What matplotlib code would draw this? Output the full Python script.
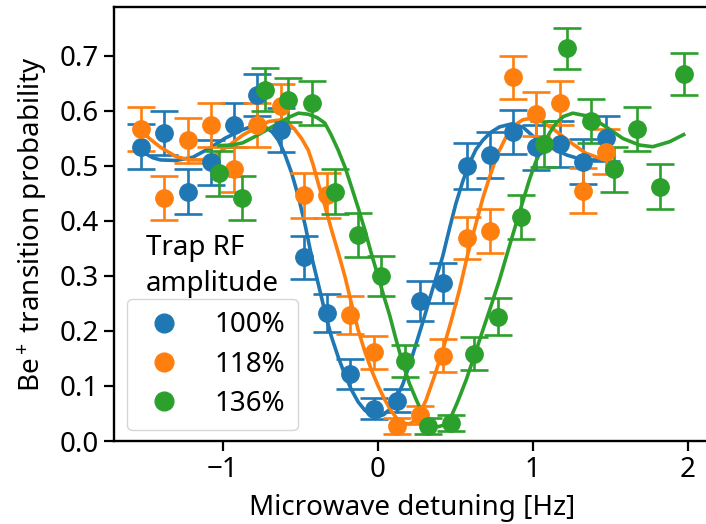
import matplotlib
matplotlib.use("Agg")
import matplotlib.pyplot as plt
from matplotlib.lines import Line2D

plt.rcParams['font.family'] = ['Noto Sans', 'DejaVu Sans']
plt.rcParams['mathtext.fontset'] = 'custom'
plt.rcParams['mathtext.rm'] = 'Noto Sans'
plt.rcParams['mathtext.it'] = 'Noto Sans:italic'
plt.rcParams['mathtext.bf'] = 'Noto Sans:bold'

# ---- data ----
labels = ["100%", "118%", "136%"]
colors = ["#1f77b4", "#ff7f0e", "#2ca02c"]

x_100 = [-1.525, -1.375, -1.225, -1.075, -0.925, -0.775, -0.625, -0.475, -0.325, -0.175, -0.025,
         0.125, 0.275, 0.425, 0.575, 0.725, 0.875, 1.025, 1.175, 1.325, 1.475]
y_100 = [0.535, 0.560, 0.453, 0.507, 0.575, 0.629, 0.566, 0.334, 0.233, 0.122, 0.059,
         0.073, 0.255, 0.287, 0.500, 0.520, 0.562, 0.534, 0.540, 0.508, 0.550]
e_100 = [0.041, 0.040, 0.041, 0.041, 0.040, 0.039, 0.040, 0.039, 0.035, 0.027, 0.019,
         0.021, 0.036, 0.037, 0.041, 0.041, 0.040, 0.041, 0.041, 0.041, 0.041]

x_118 = [-1.525, -1.375, -1.225, -1.075, -0.925, -0.775, -0.625, -0.475, -0.325, -0.175, -0.025,
         0.125, 0.275, 0.425, 0.575, 0.725, 0.875, 1.025, 1.175, 1.325, 1.475]
y_118 = [0.567, 0.441, 0.547, 0.575, 0.494, 0.575, 0.609, 0.447, 0.447, 0.229, 0.161,
         0.027, 0.047, 0.155, 0.369, 0.381, 0.661, 0.595, 0.615, 0.455, 0.526]
e_118 = [0.040, 0.040, 0.041, 0.040, 0.041, 0.040, 0.040, 0.041, 0.041, 0.034, 0.030,
         0.014, 0.017, 0.030, 0.039, 0.040, 0.039, 0.040, 0.040, 0.041, 0.041]

x_136 = [-1.025, -0.875, -0.725, -0.575, -0.425, -0.275, -0.125, 0.025, 0.175, 0.325, 0.475,
         0.625, 0.775, 0.925, 1.075, 1.225, 1.375, 1.525, 1.675, 1.825, 1.975]
y_136 = [0.487, 0.441, 0.639, 0.620, 0.615, 0.453, 0.375, 0.300, 0.146, 0.027, 0.033,
         0.159, 0.226, 0.408, 0.540, 0.714, 0.581, 0.494, 0.567, 0.462, 0.667]
e_136 = [0.041, 0.040, 0.039, 0.040, 0.040, 0.041, 0.040, 0.037, 0.029, 0.014, 0.015,
         0.030, 0.034, 0.040, 0.041, 0.037, 0.040, 0.041, 0.040, 0.041, 0.038]

# fitted curves, points
fx_100 = [-1.525, -1.45, -1.40, -1.30, -1.19, -1.08, -0.98, -0.87, -0.80, -0.74, -0.68, -0.64,
          -0.60, -0.555, -0.51, -0.465, -0.425, -0.38, -0.34, -0.30, -0.254, -0.21, -0.168,
          -0.125, -0.082, -0.04, 0.004, 0.04, 0.08, 0.12, 0.163, 0.225, 0.29, 0.355, 0.42,
          0.465, 0.506, 0.55, 0.593, 0.635, 0.68, 0.73, 0.787, 0.873, 0.94, 1.00, 1.11, 1.22,
          1.325, 1.40, 1.475]
fy_100 = [0.527, 0.515, 0.511, 0.510, 0.516, 0.533, 0.551, 0.566, 0.573, 0.574, 0.562, 0.547,
          0.523, 0.488, 0.444, 0.390, 0.335, 0.283, 0.236, 0.192, 0.153, 0.120, 0.093,
          0.071, 0.056, 0.047, 0.044, 0.048, 0.058, 0.077, 0.103, 0.155, 0.214, 0.276, 0.335,
          0.387, 0.432, 0.472, 0.505, 0.530, 0.547, 0.561, 0.571, 0.577, 0.570, 0.555, 0.535,
          0.520, 0.511, 0.511, 0.516]

fx_118 = [-1.525, -1.45, -1.40, -1.30, -1.21, -1.127, -1.04, -0.955, -0.87, -0.78, -0.70,
          -0.62, -0.575, -0.533, -0.49, -0.447, -0.415, -0.383, -0.34, -0.297, -0.253, -0.21,
          -0.168, -0.125, -0.082, -0.039, 0.004, 0.047, 0.09, 0.133, 0.17, 0.206, 0.235,
          0.26, 0.285, 0.314, 0.365, 0.421, 0.475, 0.529, 0.58, 0.636, 0.68, 0.723, 0.775,
          0.83, 0.88, 0.937, 1.00, 1.065, 1.13, 1.24, 1.345, 1.455, 1.475]
fy_118 = [0.563, 0.545, 0.534, 0.517, 0.511, 0.511, 0.521, 0.538, 0.556, 0.570, 0.581,
          0.584, 0.578, 0.566, 0.550, 0.529, 0.502, 0.469, 0.428, 0.384, 0.342, 0.299,
          0.250, 0.202, 0.163, 0.129, 0.100, 0.075, 0.054, 0.038, 0.032, 0.031, 0.036,
          0.044, 0.057, 0.075, 0.116, 0.165, 0.218, 0.275, 0.337, 0.396, 0.442, 0.480, 0.522,
          0.553, 0.573, 0.584, 0.587, 0.580, 0.568, 0.544, 0.523, 0.512, 0.512]

fx_136 = [-1.025, -0.94, -0.87, -0.78, -0.70, -0.617, -0.56, -0.51, -0.447, -0.39, -0.34,
          -0.30, -0.254, -0.21, -0.168, -0.125, -0.082, -0.04, 0.004, 0.04, 0.077, 0.12,
          0.163, 0.205, 0.25, 0.29, 0.325, 0.36, 0.39, 0.43, 0.465, 0.515, 0.572, 0.625,
          0.68, 0.735, 0.787, 0.84, 0.895, 0.94, 0.98, 1.02, 1.066, 1.11, 1.153, 1.20, 1.26,
          1.368, 1.475, 1.583, 1.69, 1.776, 1.884, 1.975]
fy_136 = [0.537, 0.538, 0.542, 0.555, 0.568, 0.581, 0.590, 0.596, 0.594, 0.588, 0.578,
          0.557, 0.529, 0.498, 0.462, 0.424, 0.384, 0.341, 0.299, 0.264, 0.230, 0.184,
          0.141, 0.105, 0.075, 0.050, 0.032, 0.026, 0.026, 0.029, 0.038, 0.070, 0.111, 0.155,
          0.202, 0.248, 0.293, 0.344, 0.396, 0.438, 0.475, 0.507, 0.535, 0.560, 0.578, 0.590,
          0.596, 0.590, 0.571, 0.550, 0.538, 0.535, 0.544, 0.557]

series = [
    (x_100, y_100, e_100, fx_100, fy_100),
    (x_118, y_118, e_118, fx_118, fy_118),
    (x_136, y_136, e_136, fx_136, fy_136),
]

# ---- figure ----
W, H = 706, 524
fig = plt.figure(figsize=(W / 100, H / 100), dpi=100)
L, R, T, B = 114, 710, 7, 441
ax = fig.add_axes([L / W, (H - B) / H, (R - L) / W, (B - T) / H])

FS = 20
for (x, y, e, fx, fy), c in zip(series, colors):
    ax.errorbar(x, y, yerr=e, fmt='o', color=c, ms=12.5, elinewidth=1.9,
                capsize=10, capthick=1.9, zorder=3)
    ax.plot(fx, fy, '-', color=c, lw=2.6, zorder=3)

ax.set_xlim(-1.70, 2.145)
ax.set_ylim(0.0, 0.789)
ax.set_xticks([-1, 0, 1, 2])
ax.set_yticks([0.0, 0.1, 0.2, 0.3, 0.4, 0.5, 0.6, 0.7])
ax.set_yticklabels(["0.0", "0.1", "0.2", "0.3", "0.4", "0.5", "0.6", "0.7"])
ax.tick_params(labelsize=FS, length=7, width=1.6, pad=4)
for s in ax.spines.values():
    s.set_linewidth(1.7)

ax.set_xlabel("Microwave detuning [Hz]", fontsize=FS, labelpad=7)
ax.set_ylabel("Be$^+$ transition probability", fontsize=FS, labelpad=7)

handles = [Line2D([], [], ls='', marker='o', color=c, ms=13.5) for c in colors]
leg = ax.legend(handles, labels, loc='lower left', bbox_to_anchor=(0.022, 0.025),
                borderaxespad=0, fontsize=FS, handletextpad=0.97, handlelength=1.73,
                borderpad=0.45, labelspacing=0.40, frameon=True)
leg.get_frame().set_edgecolor('0.8')

ax.text(0.054, 0.478, "Trap RF\namplitude", transform=ax.transAxes, fontsize=FS,
        va='top', ha='left', linespacing=1.38)

fig.savefig("out.png", dpi=100)
